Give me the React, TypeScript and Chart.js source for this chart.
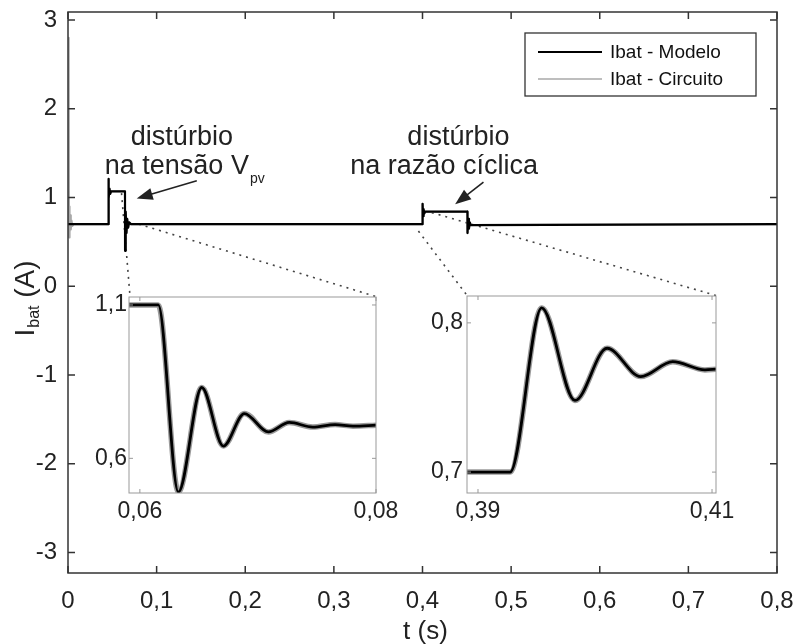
import React, { useEffect, useRef } from "react";
import { Chart, registerables } from "chart.js";
Chart.register(...registerables);

const FONT = "'Liberation Sans', Arial, Helvetica, sans-serif";

// ---------- main plot ----------
const xTicksMain = [0, 0.1, 0.2, 0.3, 0.4, 0.5, 0.6, 0.7, 0.8];
const yTicksMain = [-3, -2, -1, 0, 1, 2, 3];

const tModelo = [0, 0.0455, 0.0456, 0.0461, 0.0468, 0.0476, 0.0486, 0.0643, 0.0644, 0.0651, 0.066, 0.0668, 0.0678, 0.069, 0.071,
  0.4, 0.4001, 0.4006, 0.4012, 0.402, 0.403, 0.4507, 0.4508, 0.4515, 0.4524, 0.4534, 0.4546, 0.8];
const iModelo = [0.7, 0.7, 1.21, 0.99, 1.1, 1.04, 1.07, 1.07, 0.4, 0.84, 0.6, 0.76, 0.66, 0.72, 0.7,
  0.7, 0.93, 0.79, 0.87, 0.82, 0.84, 0.84, 0.6, 0.76, 0.65, 0.72, 0.69, 0.7];

// circuit: start-up transient, then it follows the model
const tCircuitoInicio = [0, 0.0008, 0.0012, 0.0016, 0.002, 0.0026, 0.0032, 0.004, 0.005, 0.0065];
const iCircuitoInicio = [0.7, 2.8, 0.55, 0.9, 0.6, 0.8, 0.64, 0.74, 0.68, 0.7];

// dotted zoom connectors (main data coordinates)
const conn1aT = [0.0604, 0.07];
const conn1aI = [1.049, -0.1165];
const conn1bT = [0.08, 0.3477];
const conn1bI = [0.7, -0.1165];
const conn2aT = [0.3954, 0.4504];
const conn2aI = [0.622, -0.105];
const conn2bT = [0.4105, 0.7315];
const conn2bI = [0.83, -0.105];

// ---------- zoom 1 (tensão Vpv) ----------
const xTicksZoom1 = [0.06, 0.08];
const yTicksZoom1 = [0.6, 1.1];
const tZoom1 = [0.05908, 0.06156, 0.06326, 0.06524, 0.06707, 0.06885, 0.07088, 0.07266, 0.07464, 0.07653, 0.07805, 0.08];
const iZoom1 = [1.1, 1.1, 0.49, 0.831, 0.64, 0.746, 0.686, 0.717, 0.702, 0.71, 0.705, 0.708];

// ---------- zoom 2 (razão cíclica) ----------
const xTicksZoom2 = [0.39, 0.41];
const yTicksZoom2 = [0.7, 0.8];
const tZoom2 = [0.38906, 0.39274, 0.39544, 0.39829, 0.40103, 0.40391, 0.40664, 0.4094, 0.41034];
const iZoom2 = [0.7, 0.7, 0.81, 0.748, 0.783, 0.764, 0.774, 0.7685, 0.769];

const pts = (t: number[], v: number[]) => t.map((x, i) => ({ x, y: v[i] }));
const fmt = (v: number) => String(v).replace(".", ",");

function scaleCfg(axis: "x" | "y", min: number, max: number, ticks: number[], size: number, pad: number, thick: number) {
  return {
    type: "linear",
    min,
    max,
    grid: { display: false, drawTicks: false },
    border: { display: false },
    ticks: {
      font: { family: FONT, size },
      color: "#222",
      padding: pad,
      autoSkip: false,
      maxRotation: 0,
      callback: (v: number) => fmt(v),
    },
    afterBuildTicks: (s: any) => {
      s.ticks = ticks.map((value) => ({ value }));
    },
    afterFit: (s: any) => {
      if (axis === "x") s.height = thick;
      else s.width = thick;
      s.paddingLeft = 0;
      s.paddingRight = 0;
      s.paddingTop = 0;
      s.paddingBottom = 0;
    },
  };
}

function framePlugin(color: string, lw: number, tick: number) {
  return {
    id: "frame",
    afterDatasetsDraw(chart: any) {
      const { ctx, chartArea: a, scales } = chart;
      ctx.save();
      ctx.strokeStyle = color;
      ctx.lineWidth = lw;
      ctx.beginPath();
      for (const t of scales.x.ticks) {
        const p = scales.x.getPixelForValue(t.value);
        ctx.moveTo(p, a.bottom);
        ctx.lineTo(p, a.bottom - tick);
        ctx.moveTo(p, a.top);
        ctx.lineTo(p, a.top + tick);
      }
      for (const t of scales.y.ticks) {
        const p = scales.y.getPixelForValue(t.value);
        ctx.moveTo(a.left, p);
        ctx.lineTo(a.left + tick, p);
        ctx.moveTo(a.right, p);
        ctx.lineTo(a.right - tick, p);
      }
      ctx.stroke();
      ctx.strokeRect(a.left, a.top, a.right - a.left, a.bottom - a.top);
      ctx.restore();
    },
  };
}

function drawArrow(ctx: CanvasRenderingContext2D, x1: number, y1: number, x2: number, y2: number) {
  const ang = Math.atan2(y2 - y1, x2 - x1);
  const hl = 16, hw = 6;
  const bx = x2 - hl * Math.cos(ang), by = y2 - hl * Math.sin(ang);
  ctx.lineWidth = 1.6;
  ctx.beginPath();
  ctx.moveTo(x1, y1);
  ctx.lineTo(bx + 2 * Math.cos(ang), by + 2 * Math.sin(ang));
  ctx.stroke();
  ctx.beginPath();
  ctx.moveTo(x2, y2);
  ctx.lineTo(bx + hw * Math.sin(ang), by - hw * Math.cos(ang));
  ctx.lineTo(bx - hw * Math.sin(ang), by + hw * Math.cos(ang));
  ctx.closePath();
  ctx.fill();
}

const annotPlugin = {
  id: "annot",
  afterDraw(chart: any) {
    const { ctx, chartArea: a, scales } = chart;
    const X = (t: number) => scales.x.getPixelForValue(t);
    const Y = (v: number) => scales.y.getPixelForValue(v);
    ctx.save();
    ctx.fillStyle = "#222";
    ctx.strokeStyle = "#222";
    const big = `27px ${FONT}`;
    const sub = `14px ${FONT}`;
    ctx.textBaseline = "alphabetic";

    // annotation 1
    ctx.font = big;
    ctx.textAlign = "center";
    ctx.fillText("distúrbio", X(0.1285), Y(1.59));
    ctx.textAlign = "left";
    const l1 = "na tensão V";
    ctx.fillText(l1, X(0.0415), Y(1.27));
    const w1 = ctx.measureText(l1).width;
    ctx.font = sub;
    ctx.fillText("pv", X(0.0415) + w1 + 1, Y(1.27) + 9);
    drawArrow(ctx, X(0.1453), Y(1.188), X(0.0775), Y(0.989));

    // annotation 2
    ctx.font = big;
    ctx.textAlign = "center";
    ctx.fillText("distúrbio", X(0.4405), Y(1.59));
    ctx.fillText("na razão cíclica", X(0.4244), Y(1.27));
    drawArrow(ctx, X(0.4688), Y(1.173), X(0.4368), Y(0.924));

    // legend
    const bw = 231, bh = 63;
    const bx = a.right - 21 - bw, by = a.top + 21;
    ctx.fillStyle = "#fff";
    ctx.fillRect(bx, by, bw, bh);
    ctx.lineWidth = 1.3;
    ctx.strokeStyle = "#333";
    ctx.strokeRect(bx, by, bw, bh);
    ctx.lineWidth = 2.2;
    ctx.strokeStyle = "#000";
    ctx.beginPath();
    ctx.moveTo(bx + 13, by + 19);
    ctx.lineTo(bx + 77, by + 19);
    ctx.stroke();
    ctx.lineWidth = 1.6;
    ctx.strokeStyle = "#a8a8a8";
    ctx.beginPath();
    ctx.moveTo(bx + 13, by + 46);
    ctx.lineTo(bx + 77, by + 46);
    ctx.stroke();
    ctx.fillStyle = "#111";
    ctx.font = `19px ${FONT}`;
    ctx.textAlign = "left";
    ctx.textBaseline = "middle";
    ctx.fillText("Ibat - Modelo", bx + 85, by + 20);
    ctx.fillText("Ibat - Circuito", bx + 85, by + 47);

    // x title
    ctx.fillStyle = "#222";
    ctx.textBaseline = "alphabetic";
    ctx.textAlign = "center";
    ctx.font = `26px ${FONT}`;
    ctx.fillText("t (s)", (a.left + a.right) / 2 + 3, 639);

    // y title
    ctx.save();
    ctx.translate(34, (a.top + a.bottom) / 2 + 44);
    ctx.rotate(-Math.PI / 2);
    ctx.textAlign = "left";
    ctx.font = `28px ${FONT}`;
    ctx.fillText("I", 0, 0);
    let w = ctx.measureText("I").width;
    ctx.font = `16px ${FONT}`;
    ctx.fillText("bat", w + 1, 5);
    w += 1 + ctx.measureText("bat").width;
    ctx.font = `28px ${FONT}`;
    ctx.fillText(" (A)", w, 0);
    ctx.restore();

    ctx.restore();
  },
};

export default function App() {
  const mainRef = useRef<HTMLCanvasElement>(null);
  const z1Ref = useRef<HTMLCanvasElement>(null);
  const z2Ref = useRef<HTMLCanvasElement>(null);

  useEffect(() => {
    const charts: Chart[] = [];
    const dotted = (t: number[], v: number[]) => ({
      data: pts(t, v),
      borderColor: "#444",
      borderWidth: 1.6,
      borderDash: [2, 5],
      pointRadius: 0,
      fill: false,
    });

    const tCircuito = tCircuitoInicio.concat(tModelo.slice(1));
    const iCircuito = iCircuitoInicio.concat(iModelo.slice(1));

    charts.push(
      new Chart(mainRef.current!, {
        type: "line",
        data: {
          datasets: [
            { label: "Ibat - Modelo", data: pts(tModelo, iModelo), borderColor: "#000", borderWidth: 2.2, pointRadius: 0, borderJoinStyle: "round" } as any,
            { label: "Ibat - Circuito", data: pts(tCircuito, iCircuito), borderColor: "#a8a8a8", borderWidth: 2, pointRadius: 0, borderJoinStyle: "round" } as any,
            dotted(conn1aT, conn1aI),
            dotted(conn1bT, conn1bI),
            dotted(conn2aT, conn2aI),
            dotted(conn2bT, conn2bI),
          ],
        },
        options: {
          responsive: false,
          animation: false,
          events: [],
          layout: { padding: { left: 0, top: 12, right: 19, bottom: 0 } },
          plugins: { legend: { display: false }, tooltip: { enabled: false } },
          scales: {
            x: scaleCfg("x", 0, 0.8, xTicksMain, 24, 14, 71) as any,
            y: scaleCfg("y", -3.23, 3.09, yTicksMain, 24, 11, 68) as any,
          },
        },
        plugins: [framePlugin("#333", 1.5, 7), annotPlugin],
      })
    );

    const insetDatasets = (t: number[], v: number[]) => [
      { data: pts(t, v), borderColor: "#000", borderWidth: 2.8, pointRadius: 0, cubicInterpolationMode: "monotone" } as any,
      { data: pts(t, v), borderColor: "#9a9a9a", borderWidth: 5.5, pointRadius: 0, cubicInterpolationMode: "monotone" } as any,
    ];

    const insetOpts = (xmin: number, xmax: number, xt: number[], ymin: number, ymax: number, yt: number[], pad: any, ypad: number) => ({
      responsive: false,
      animation: false,
      events: [],
      layout: { padding: pad },
      plugins: { legend: { display: false }, tooltip: { enabled: false } },
      scales: {
        x: scaleCfg("x", xmin, xmax, xt, 23, 5, 40) as any,
        y: scaleCfg("y", ymin, ymax, yt, 23, ypad, 40) as any,
      },
    });

    charts.push(
      new Chart(z1Ref.current!, {
        type: "line",
        data: { datasets: insetDatasets(tZoom1, iZoom1) },
        options: insetOpts(0.05908, 0.08, xTicksZoom1, 0.487, 1.126, yTicksZoom1,
          { left: 129 - 40, top: 297, right: 796 - 376, bottom: 644 - 493 - 40 }, 2) as any,
        plugins: [framePlugin("#999", 1, 4)],
      })
    );

    charts.push(
      new Chart(z2Ref.current!, {
        type: "line",
        data: { datasets: insetDatasets(tZoom2, iZoom2) },
        options: insetOpts(0.38906, 0.41034, xTicksZoom2, 0.686, 0.818, yTicksZoom2,
          { left: 467 - 40, top: 296, right: 796 - 716, bottom: 644 - 493 - 40 }, 4) as any,
        plugins: [framePlugin("#999", 1, 4)],
      })
    );

    return () => charts.forEach((c) => c.destroy());
  }, []);

  const cs: React.CSSProperties = { position: "absolute", left: 0, top: 0, display: "block" };
  return (
    <div style={{ position: "absolute", left: 0, top: 0, width: 796, height: 644, background: "#fff" }}>
      <canvas ref={mainRef} width={796} height={644} style={cs} />
      <canvas ref={z1Ref} width={796} height={644} style={cs} />
      <canvas ref={z2Ref} width={796} height={644} style={cs} />
    </div>
  );
}
